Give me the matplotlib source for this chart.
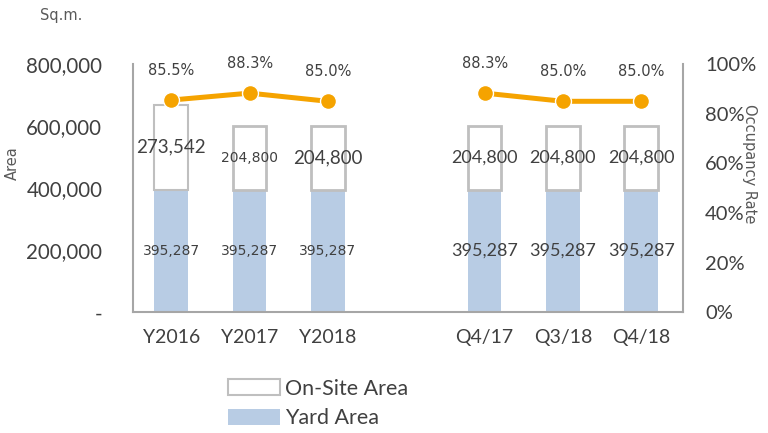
import numpy as np
import matplotlib.pyplot as plt

# data
categories = ['Y2016', 'Y2017', 'Y2018', 'Q4/17', 'Q3/18', 'Q4/18']
positions = [0, 1, 2, 4, 5, 6]
yard_area = [395287, 395287, 395287, 395287, 395287, 395287]
onsite_area = [273542, 204800, 204800, 204800, 204800, 204800]
occupancy = [85.5, 88.3, 85.0, 88.3, 85.0, 85.0]

yard_size = [10, 10, 10, 13, 13, 13]
onsite_size = [13.5, 10, 13.5, 13, 13, 13]

plt.rcParams['font.family'] = ['Lato', 'DejaVu Sans']

txt = '#404040'
grey = '#BFBFBF'
orange = '#F5A300'
small_font = ['DejaVu Sans']

fig = plt.figure(figsize=(7.68, 4.33), dpi=100)
ax = fig.add_axes([0.173, 0.279, 0.716, 0.573])

w = 0.43
ax.bar(positions, yard_area, w, color='#B8CCE4', label='Yard Area', zorder=2)
ax.bar(positions, onsite_area, w, bottom=yard_area, facecolor='white',
       edgecolor=grey, linewidth=2, label='On-Site Area', zorder=2)

for x, y, s in zip(positions, yard_area, yard_size):
    fam = small_font if s < 11 else None
    ax.text(x, y / 2, f'{y:,}', ha='center', va='center', fontsize=s,
            color=txt, zorder=4, family=fam)
for x, y0, y, s in zip(positions, yard_area, onsite_area, onsite_size):
    fam = small_font if s < 11 else None
    ax.text(x, y0 + y / 2, f'{y:,}', ha='center', va='center', fontsize=s,
            color=txt, zorder=4, family=fam)

ax.set_ylim(0, 800000)
ax.set_xlim(-0.49, 6.53)
ax.set_yticks([0, 200000, 400000, 600000, 800000])
ax.set_yticklabels(['-', '200,000', '400,000', '600,000', '800,000'])
ax.set_xticks(positions)
ax.set_xticklabels(categories)
ax.tick_params(axis='both', length=0, labelsize=14, colors=txt)
ax.tick_params(axis='y', pad=22, labelsize=14.8)
ax.tick_params(axis='x', pad=12)
for sp in ['top', 'right']:
    ax.spines[sp].set_visible(False)
for sp in ['left', 'bottom']:
    ax.spines[sp].set_color('#A6A6A6')
    ax.spines[sp].set_linewidth(1.5)
ax.set_ylabel('Area', fontsize=10.5, color='#595959', family=small_font)
ax.yaxis.set_label_coords(-0.205, 0.6)

ax2 = ax.twinx()
ax2.set_ylim(0, 100)
ax2.set_yticks([0, 20, 40, 60, 80, 100])
ax2.set_yticklabels([f'{v}%' for v in [0, 20, 40, 60, 80, 100]])
ax2.tick_params(axis='y', length=0, labelsize=14.5, colors=txt, pad=16)
for sp in ['top', 'left', 'bottom']:
    ax2.spines[sp].set_visible(False)
ax2.spines['right'].set_color('#A6A6A6')
ax2.spines['right'].set_linewidth(1.5)
ax2.set_ylabel('Occupancy Rate', fontsize=10.5, color='#595959', rotation=-90,
               family=small_font)
ax2.yaxis.set_label_coords(1.135, 0.6)

for seg in (slice(0, 3), slice(3, 6)):
    ax2.plot(positions[seg], occupancy[seg], color=orange, linewidth=3.6,
             marker='o', markersize=11.5, markeredgecolor='white',
             markeredgewidth=1, zorder=3)
for x, v in zip(positions, occupancy):
    ax2.text(x, v + 9, f'{v:.1f}%', ha='center', va='bottom', fontsize=10.5,
             color=txt, family=small_font)

fig.text(0.052, 0.965, 'Sq.m.', fontsize=10.5, color='#595959', va='center',
         family=small_font)

h, l = ax.get_legend_handles_labels()
h[1].patches[0].set_linewidth(1.5)
fig.legend(h[::-1], l[::-1], loc='center left', bbox_to_anchor=(0.297, 0.068),
           frameon=False, fontsize=15.5, labelcolor=txt, handlelength=2.4,
           handleheight=0.75, handletextpad=0.25, labelspacing=0.45,
           borderpad=0, borderaxespad=0)

fig.savefig('out.png', dpi=100)
